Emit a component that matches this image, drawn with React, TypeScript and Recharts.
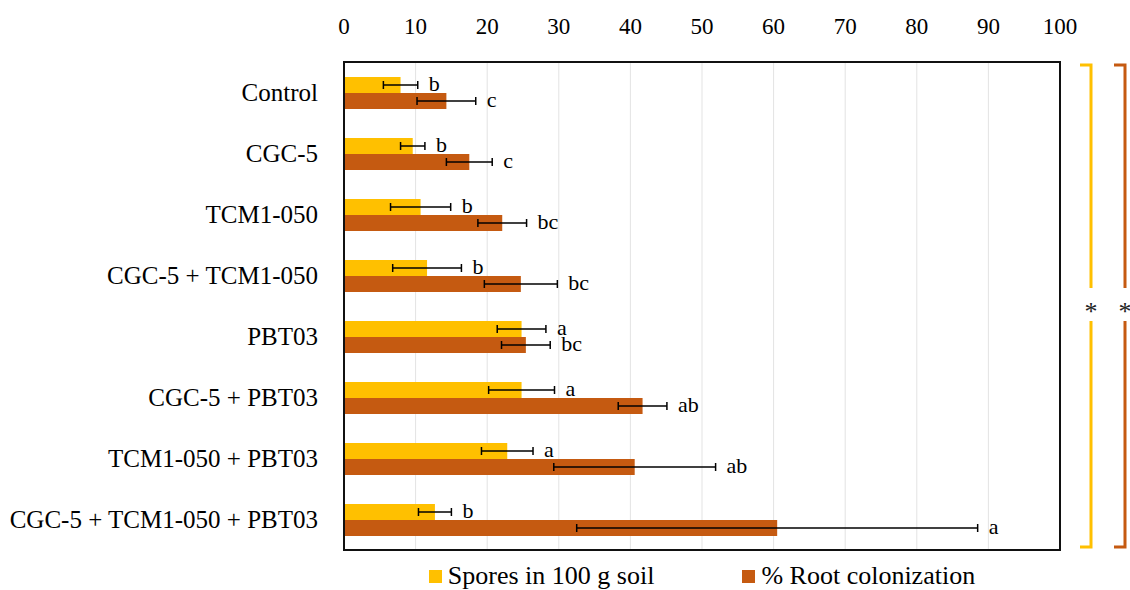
import { Bar, BarChart, CartesianGrid, ErrorBar, LabelList, Legend, XAxis, YAxis } from "recharts";

const categories = [
  "Control",
  "CGC-5",
  "TCM1-050",
  "CGC-5 + TCM1-050",
  "PBT03",
  "CGC-5 + PBT03",
  "TCM1-050 + PBT03",
  "CGC-5 + TCM1-050 + PBT03",
];
const spores = [7.9, 9.6, 10.7, 11.6, 24.8, 24.8, 22.8, 12.7];
const sporesErr = [2.4, 1.7, 4.2, 4.8, 3.4, 4.6, 3.6, 2.3];
const sporesLetters = ["b", "b", "b", "b", "a", "a", "a", "b"];
const root = [14.3, 17.5, 22.1, 24.7, 25.4, 41.7, 40.6, 60.5];
const rootErr = [4.1, 3.2, 3.4, 5.1, 3.4, 3.4, 11.3, 28.0];
const rootLetters = ["c", "c", "bc", "bc", "bc", "ab", "ab", "a"];
const xTicks = [0, 10, 20, 30, 40, 50, 60, 70, 80, 90, 100];

const YELLOW = "#FFC000";
const ORANGE = "#C55A11";
const FONT = '"Liberation Serif", "Times New Roman", serif';

const W = 1130;
const H = 590;
const PLOT = { left: 344, top: 62, right: 1060, bottom: 550 };

const data = categories.map((name, i) => ({
  name,
  spores: spores[i],
  sporesErr: sporesErr[i],
  root: root[i],
  rootErr: rootErr[i],
}));

function letterLabel(letters: string[], errs: number[]) {
  return (props: any) => {
    const { x, y, width, height, index, value } = props;
    const pxPerUnit = width / value;
    const tx = x + width + errs[index] * pxPerUnit + 11;
    return (
      <text x={tx} y={y + height / 2} dy="0.28em" fontSize={22} fontFamily={FONT} fill="#000">
        {letters[index]}
      </text>
    );
  };
}

function LegendBox() {
  const items = [
    { label: "Spores in 100 g soil", color: YELLOW },
    { label: "% Root colonization", color: ORANGE },
  ];
  return (
    <div
      style={{
        height: 40,
        boxSizing: "border-box",
        paddingTop: 12,
        display: "flex",
        justifyContent: "center",
        alignItems: "center",
        gap: 88,
        fontFamily: FONT,
        fontSize: 26,
        color: "#000",
      }}
    >
      {items.map((it) => (
        <div key={it.label} style={{ display: "flex", alignItems: "center", gap: 6, height: 28 }}>
          <span style={{ width: 13, height: 13, background: it.color, display: "inline-block" }} />
          <span>{it.label}</span>
        </div>
      ))}
    </div>
  );
}

function Bracket({ x, color }: { x: number; color: string }) {
  const top = 65;
  const bottom = 547;
  const gapTop = 288;
  const gapBottom = 321;
  return (
    <g stroke={color} strokeWidth={3} fill="none">
      <polyline points={`${x - 11},${top} ${x},${top} ${x},${gapTop}`} />
      <polyline points={`${x},${gapBottom} ${x},${bottom} ${x - 11},${bottom}`} />
      <text x={x} y={306} dy="0.55em" textAnchor="middle" fontSize={26} fontFamily={FONT} fill="#222" stroke="none">
        *
      </text>
    </g>
  );
}

export default function App() {
  return (
    <div style={{ position: "absolute", left: 0, top: 0, width: W, height: H, background: "#fff" }}>
      <BarChart
        width={W}
        height={H}
        data={data}
        layout="vertical"
        barSize={16}
        barGap={0}
        margin={{ top: 0, right: W - PLOT.right, bottom: 0, left: 0 }}
      >
        <CartesianGrid horizontal={false} stroke="#e3e3e3" strokeWidth={1} />
        <XAxis
          type="number"
          orientation="top"
          domain={[0, 100]}
          ticks={xTicks}
          interval={0}
          height={PLOT.top}
          tickSize={0}
          tickMargin={28}
          axisLine={false}
          tickLine={false}
          tick={{ fill: "#000", fontSize: 23, fontFamily: FONT }}
        />
        <YAxis
          type="category"
          dataKey="name"
          width={PLOT.left}
          axisLine={false}
          tickLine={false}
          tickSize={0}
          tickMargin={26}
          tick={{ fill: "#000", fontSize: 25, fontFamily: FONT }}
        />
        <Legend
          verticalAlign="bottom"
          content={() => <LegendBox />}
          wrapperStyle={{ left: PLOT.left, width: PLOT.right - PLOT.left, bottom: 0 }}
        />
        <Bar dataKey="spores" fill={YELLOW} isAnimationActive={false}>
          <ErrorBar dataKey="sporesErr" direction="x" width={4} stroke="#000" strokeWidth={1.5} />
          <LabelList dataKey="spores" content={letterLabel(sporesLetters, sporesErr)} />
        </Bar>
        <Bar dataKey="root" fill={ORANGE} isAnimationActive={false}>
          <ErrorBar dataKey="rootErr" direction="x" width={4} stroke="#000" strokeWidth={1.5} />
          <LabelList dataKey="root" content={letterLabel(rootLetters, rootErr)} />
        </Bar>
      </BarChart>
      <svg width={W} height={H} style={{ position: "absolute", left: 0, top: 0, pointerEvents: "none" }}>
        <rect
          x={PLOT.left}
          y={PLOT.top}
          width={PLOT.right - PLOT.left}
          height={PLOT.bottom - PLOT.top}
          fill="none"
          stroke="#111"
          strokeWidth={2}
        />
        <Bracket x={1091} color={YELLOW} />
        <Bracket x={1125} color={ORANGE} />
      </svg>
    </div>
  );
}
